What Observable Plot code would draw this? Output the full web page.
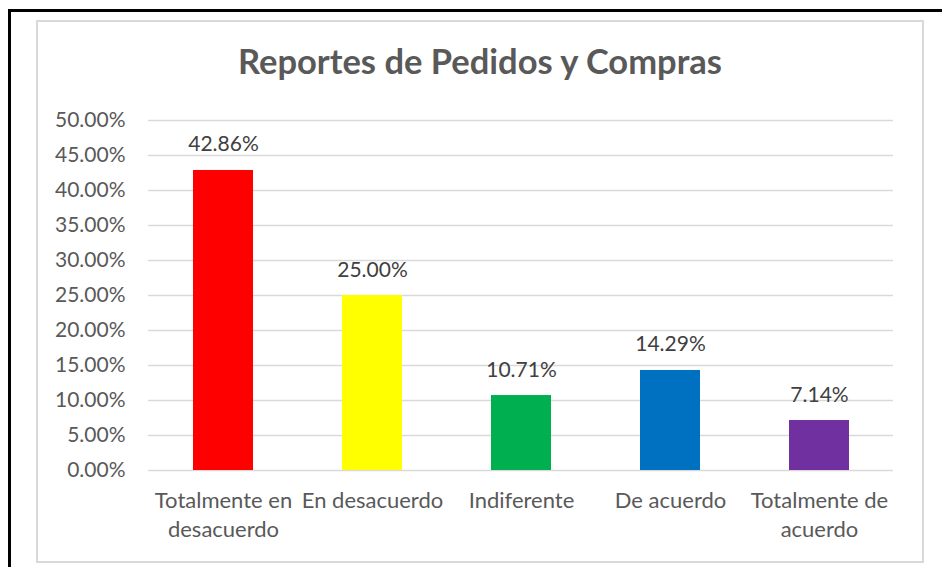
<!DOCTYPE html>
<html>
<head>
<meta charset="utf-8">
<script src="https://cdn.jsdelivr.net/npm/d3@7"></script>
<script src="https://cdn.jsdelivr.net/npm/@observablehq/plot@0.6"></script>
<style>
  html, body { margin: 0; padding: 0; background: #fff; width: 942px; height: 567px; overflow: hidden; }
  #outer { position: absolute; left: 8px; top: 9px; width: 1000px; height: 1000px; border: 3px solid #000; box-sizing: border-box; }
  #inner { position: absolute; left: 36px; top: 20px; width: 888px; height: 543px; border: 2px solid #D9D9D9; box-sizing: border-box; }
  #title { position: absolute; left: 36px; width: 888px; top: 44px; text-align: center; font-family: Lato, sans-serif; font-weight: bold; font-size: 34.5px; line-height: 34.5px; color: #595959; }
  #chart { position: absolute; left: 0; top: 0; }
</style>
</head>
<body>
<div id="outer"></div>
<div id="inner"></div>
<div id="chart"></div>
<div id="title">Reportes de Pedidos y Compras</div>
<script>
const categories = ["Totalmente en desacuerdo", "En desacuerdo", "Indiferente", "De acuerdo", "Totalmente de acuerdo"];
const tickLabels = ["Totalmente en\ndesacuerdo", "En desacuerdo", "Indiferente", "De acuerdo", "Totalmente de\nacuerdo"];
const values = [0.4286, 0.25, 0.1071, 0.1429, 0.0714];
const colors = ["#FF0000", "#FFFF00", "#00B050", "#0070C0", "#7030A0"];
const yTicks = [0, 0.05, 0.10, 0.15, 0.20, 0.25, 0.30, 0.35, 0.40, 0.45, 0.50];

const data = categories.map((c, i) => ({cat: c, value: values[i], color: colors[i]}));
const labelOf = new Map(categories.map((c, i) => [c, tickLabels[i]]));
const pct = d3.format(".2%");

const chart = Plot.plot({
  width: 942,
  height: 567,
  marginLeft: 148,
  marginRight: 49,
  marginTop: 120,
  marginBottom: 97,
  style: {fontFamily: "Lato, sans-serif", fontSize: "21px", color: "#595959", background: "transparent", overflow: "visible"},
  x: {domain: categories, paddingInner: 0.6, paddingOuter: 0.3, label: null},
  y: {domain: [0, 0.5], label: null},
  color: {type: "identity"},
  marks: [
    Plot.gridY(yTicks, {stroke: "#D9D9D9", strokeOpacity: 1, strokeWidth: 1.5}),
    Plot.barY(data, {x: "cat", y: "value", fill: "color"}),
    Plot.text(data, {x: "cat", y: "value", text: d => pct(d.value), lineAnchor: "bottom", dy: -19, fill: "#404040", fontSize: 21}),
    Plot.axisY({ticks: yTicks, tickFormat: pct, tickSize: 0, tickPadding: 23, fontSize: 21, label: null}),
    Plot.axisX({tickFormat: d => labelOf.get(d), tickSize: 0, tickPadding: 17, lineHeight: 1.32, fontSize: 22, label: null})
  ]
});
document.getElementById("chart").appendChild(chart);
</script>
</body>
</html>
